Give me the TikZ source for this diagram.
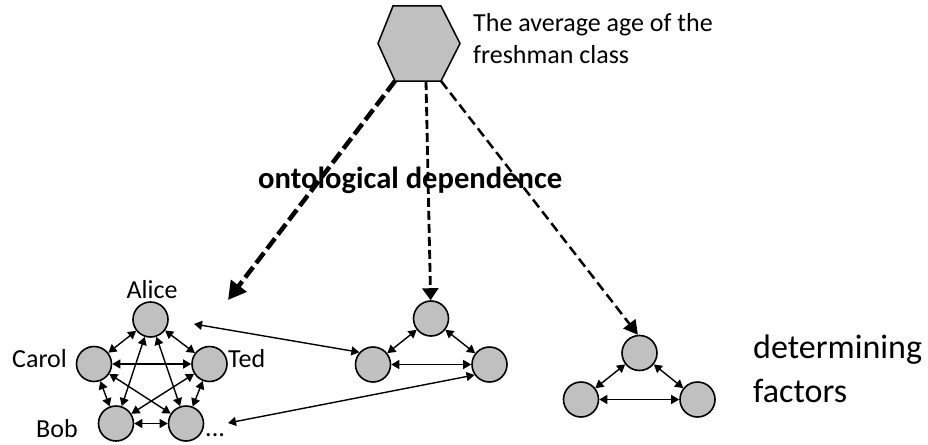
\documentclass[tikz,border=0pt]{standalone}
\usepackage{fontspec}
\setmainfont{Carlito}
\usetikzlibrary{arrows.meta}
\definecolor{nodegray}{RGB}{192,192,192}
\begin{document}
\begin{tikzpicture}[x=1pt,y=-1pt,
  dot/.style={circle,draw=black,fill=nodegray,line width=1.6pt,minimum size=35pt,inner sep=0pt},
  link/.style={line width=1.4pt,{Triangle[length=8pt,width=9pt]}-{Triangle[length=8pt,width=9pt]}},
  lbl/.style={inner sep=0pt,font=\fontsize{26}{31.7}\selectfont},
  hexstyle/.style={draw=black,fill=nodegray,line width=1.5pt,line join=miter},
  thickdep/.style={line width=4.5pt,dash pattern=on 13pt off 5pt,-{Triangle[length=18pt,width=19pt]}},
  middep/.style={line width=2.8pt,dash pattern=on 9pt off 4pt,-{Triangle[length=12pt,width=16pt]}},
  rightdep/.style={line width=2.5pt,dash pattern=on 10pt off 5pt,-{Triangle[length=14pt,width=15pt]}}
]
\useasboundingbox (0,0) rectangle (928,444);
% hexagon
\coordinate (hl) at (378,43.5);
\coordinate (htl) at (393,6);
\coordinate (htr) at (441,6);
\coordinate (hr) at (460,43.5);
\coordinate (hbr) at (441,81);
\coordinate (hbl) at (395,81);
\coordinate (hbm) at (426,81);
\draw[hexstyle] (hl) -- (htl) -- (htr) -- (hr) -- (hbr) -- (hbl) -- cycle;
\node[lbl,anchor=base west,align=left] (title) at (473,63.3) {The average age of the\\freshman class};
% pentagon group
\node[dot] (alice) at (150.5,319.5) {};
\node[dot] (carol) at (94,364) {};
\node[dot] (ted) at (209.5,364) {};
\node[dot] (bob) at (116,423.5) {};
\node[dot] (fifth) at (186,423.5) {};
\node[lbl,anchor=base] (lalice) at (152,298) {Alice};
\node[lbl,anchor=base west] (lcarol) at (12,367) {Carol};
\node[lbl,anchor=base west] (lted) at (228,367) {Ted};
\node[lbl,anchor=base west] (lbob) at (36,437) {Bob};
\node[lbl,anchor=base west] (ldots) at (205,436) {...};
\foreach \a/\b in {alice/carol,alice/ted,alice/bob,alice/fifth,carol/ted,carol/bob,carol/fifth,ted/bob,ted/fifth,bob/fifth}
  \draw[link] (\a) -- (\b);
% middle triangle
\node[dot] (m1) at (431,318.5) {};
\node[dot] (m2) at (373,364.5) {};
\node[dot] (m3) at (489.5,364.5) {};
\draw[link] (m1) -- (m2);
\draw[link] (m1) -- (m3);
\draw[link] (m2) -- (m3);
% right triangle
\node[dot] (r1) at (639.5,353) {};
\node[dot] (r2) at (581,399.5) {};
\node[dot] (r3) at (697.5,399.5) {};
\draw[link] (r1) -- (r2);
\draw[link] (r1) -- (r3);
\draw[link] (r2) -- (r3);
% long links
\coordinate (freeA) at (194,324);
\coordinate (freeB) at (228,423);
\draw[link] (freeA) -- (m2.138);
\draw[link] (freeB) -- (m3.215);
% dependence arrows
\coordinate (tipA) at (228,300);
\draw[thickdep] (hbl) -- (tipA);
\draw[middep] (hbm) -- (m1);
\draw[rightdep] (hbr) -- (r1.95);
\node[inner sep=0pt,anchor=base west,font=\fontsize{30.6}{36}\selectfont\bfseries] (onto) at (258,188) {ontological dependence};
\node[inner sep=0pt,anchor=base west,align=left,font=\fontsize{34}{44}\selectfont] (det) at (753,402) {determining\\factors};
\end{tikzpicture}
\end{document}
